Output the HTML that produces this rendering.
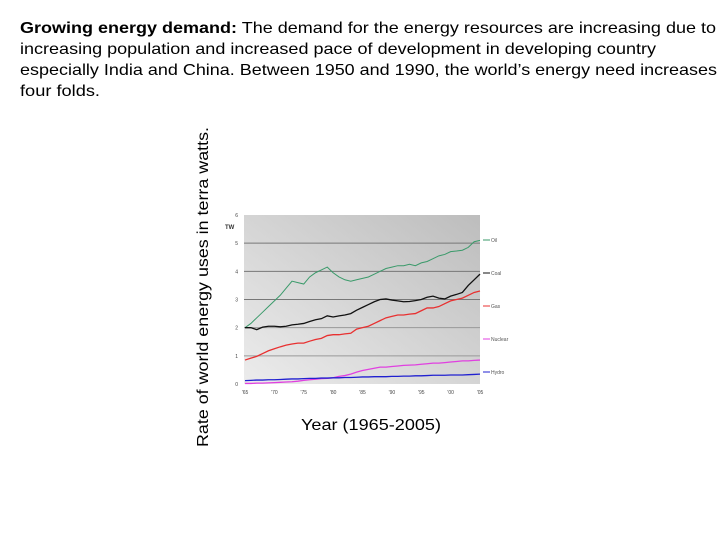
<!DOCTYPE html>
<html><head><meta charset="utf-8"><style>
html,body{margin:0;padding:0;background:#fff;width:720px;height:540px;overflow:hidden}
svg{display:block}
</style></head><body>
<svg id="c" width="720" height="540" xmlns="http://www.w3.org/2000/svg" font-family="Liberation Sans, Arial, sans-serif">
<defs>
<linearGradient id="bg" x1="0" y1="1" x2="1" y2="0">
<stop offset="0" stop-color="#ececec"/><stop offset="1" stop-color="#bdbdbd"/>
</linearGradient>
</defs>
<g font-size="16" fill="#000">
<text x="20" y="33" textLength="696" lengthAdjust="spacingAndGlyphs"><tspan font-weight="bold">Growing energy demand:</tspan> The demand for the energy resources are increasing due to</text>
<text x="20" y="54" textLength="636" lengthAdjust="spacingAndGlyphs">increasing population and increased pace of development in developing country</text>
<text x="20" y="75" textLength="697" lengthAdjust="spacingAndGlyphs">especially India and China. Between 1950 and 1990, the world’s energy need increases</text>
<text x="20" y="96" textLength="80" lengthAdjust="spacingAndGlyphs">four folds.</text>
</g>
<text transform="translate(208,447) rotate(-90)" font-size="16" textLength="320" lengthAdjust="spacingAndGlyphs">Rate of world energy uses in terra watts.</text>
<text x="301" y="430" font-size="16" textLength="140" lengthAdjust="spacingAndGlyphs">Year (1965-2005)</text>
<rect x="244" y="215" width="236" height="169" fill="url(#bg)"/>
<g id="grid"></g><g id="series"></g><g id="ticks" font-size="5" fill="#444"></g>
<text x="225" y="229" font-size="6" font-weight="bold" fill="#333">TW</text>
</svg>
<script>
const years=[];for(let y=1965;y<=2005;y++)years.push(y);
const yTicks=[0,1,2,3,4,5,6];
const xTickYears=[1965,1970,1975,1980,1985,1990,1995,2000,2005];
const xTickLabels=["'65","'70","'75","'80","'85","'90","'95","'00","'05"];
const seriesNames=["Oil","Coal","Gas","Nuclear","Hydro"];
const oil=[2.0,2.15,2.35,2.55,2.75,2.95,3.15,3.4,3.65,3.6,3.55,3.8,3.95,4.05,4.15,3.95,3.8,3.7,3.65,3.7,3.75,3.8,3.9,4.0,4.1,4.15,4.2,4.2,4.25,4.2,4.3,4.35,4.45,4.55,4.6,4.7,4.72,4.75,4.85,5.05,5.1];
const coal=[2.0,2.0,1.93,2.02,2.05,2.05,2.03,2.05,2.1,2.12,2.15,2.22,2.28,2.32,2.42,2.38,2.42,2.45,2.5,2.62,2.72,2.82,2.92,3.0,3.02,2.98,2.95,2.92,2.93,2.96,3.0,3.08,3.12,3.05,3.02,3.12,3.18,3.25,3.5,3.7,3.9];
const gas=[0.85,0.92,0.98,1.08,1.18,1.25,1.32,1.38,1.42,1.45,1.45,1.52,1.58,1.62,1.72,1.75,1.75,1.78,1.8,1.95,2.0,2.05,2.15,2.25,2.35,2.4,2.45,2.45,2.48,2.5,2.6,2.7,2.7,2.75,2.85,2.95,3.0,3.05,3.15,3.25,3.3];
const nuclear=[0.02,0.02,0.03,0.03,0.04,0.05,0.06,0.07,0.08,0.1,0.13,0.15,0.17,0.19,0.2,0.22,0.27,0.3,0.35,0.42,0.48,0.52,0.56,0.6,0.6,0.62,0.64,0.66,0.67,0.68,0.7,0.72,0.74,0.74,0.76,0.78,0.8,0.82,0.82,0.84,0.85];
const hydro=[0.12,0.13,0.14,0.14,0.15,0.15,0.16,0.17,0.18,0.18,0.19,0.2,0.2,0.21,0.21,0.22,0.22,0.23,0.23,0.24,0.25,0.25,0.26,0.26,0.26,0.27,0.27,0.28,0.28,0.29,0.29,0.3,0.31,0.31,0.31,0.32,0.32,0.32,0.33,0.34,0.35];
const ns="http://www.w3.org/2000/svg";
const X=y=>245+(y-1965)*(235/40);
const Y=v=>384-v*(169/6);
const grid=document.getElementById('grid'),ser=document.getElementById('series'),tk=document.getElementById('ticks');
function mk(t,a,p){const e=document.createElementNS(ns,t);for(const k in a)e.setAttribute(k,a[k]);p.appendChild(e);return e;}
yTicks.forEach(v=>{
 if(v>0&&v<6){const l=mk('line',{x1:244,x2:480,y1:Y(v),y2:Y(v),stroke:v>=3?'#777':'#999','stroke-width':1},grid);
 
 }
 const t=mk('text',{x:238,y:Y(v)+2,'text-anchor':'end'},tk);t.textContent=v;
 
 
});
xTickYears.forEach((y,i)=>{const t=mk('text',{x:X(y),y:394,'text-anchor':'middle'},tk);t.textContent=xTickLabels[i];
 
 });
const data=[oil,coal,gas,nuclear,hydro];
const colors=['#3a9a6a','#111','#e83030','#e040e0','#2020d0'];
const widths=[1,1.3,1.3,1.3,1.3];
data.forEach((d,i)=>{
 const p=mk('polyline',{points:d.map((v,j)=>X(years[j])+','+Y(v)).join(' '),fill:'none',stroke:colors[i],'stroke-width':widths[i]},ser);
 
 
 const ly=240+i*33;
 const ll=mk('line',{x1:483,x2:490,y1:ly,y2:ly,stroke:colors[i],'stroke-width':1},ser);
 
 
 const t=mk('text',{x:491,y:ly+2,'font-size':5,fill:'#555'},ser);t.textContent=seriesNames[i];
 
 
});
</script>
</body></html>
